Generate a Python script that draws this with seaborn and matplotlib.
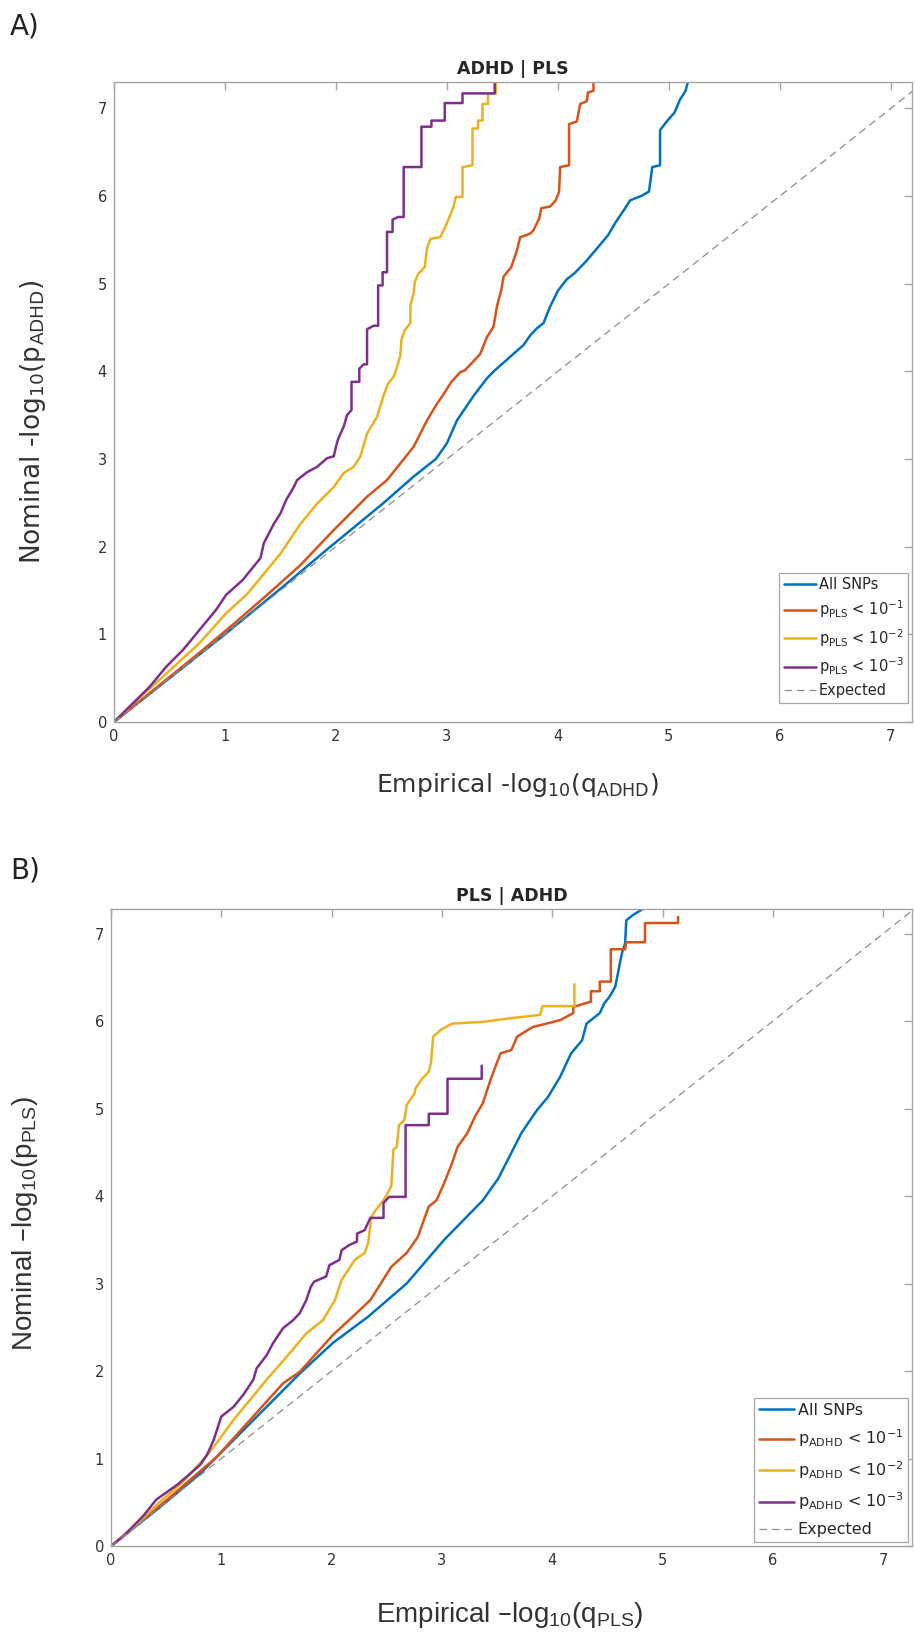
import numpy as np
import pandas as pd
import matplotlib
matplotlib.use("Agg")
import matplotlib.pyplot as plt
import seaborn as sns

# ---- Panel A: ADHD | PLS ----
a_all_x = [0, 0.50, 1.00, 1.50, 1.95, 2.20, 2.43, 2.70, 2.90, 3.00, 3.09, 3.24, 3.36, 3.43, 3.52, 3.60, 3.69, 3.75, 3.81, 3.87,
           3.93, 4.00, 4.08, 4.15, 4.25, 4.35, 4.45, 4.52, 4.60, 4.65, 4.75, 4.82, 4.85, 4.92, 4.92, 4.98, 5.05, 5.10, 5.15, 5.17]
a_all_y = [0, 0.50, 1.00, 1.52, 2.00, 2.26, 2.50, 2.80, 3.00, 3.18, 3.44, 3.72, 3.92, 4.01, 4.11, 4.20, 4.30, 4.41, 4.49, 4.55,
           4.74, 4.92, 5.05, 5.12, 5.25, 5.40, 5.55, 5.70, 5.85, 5.95, 6.00, 6.05, 6.33, 6.35, 6.75, 6.85, 6.95, 7.10, 7.20, 7.30]

a_p1_x = [0, 0.77, 1.07, 1.38, 1.68, 1.98, 2.13, 2.28, 2.46, 2.58, 2.70, 2.82, 2.91, 2.97, 3.04, 3.12, 3.16, 3.25, 3.30, 3.36,
          3.42, 3.45, 3.49, 3.51, 3.58, 3.63, 3.66, 3.75, 3.78, 3.83, 3.85, 3.93, 3.98, 4.01, 4.02, 4.10, 4.10, 4.17, 4.20, 4.26,
          4.27, 4.32, 4.32]
a_p1_y = [0, 0.79, 1.11, 1.45, 1.79, 2.19, 2.38, 2.57, 2.76, 2.95, 3.14, 3.44, 3.63, 3.74, 3.88, 3.99, 4.01, 4.13, 4.20, 4.39,
          4.51, 4.74, 4.93, 5.08, 5.19, 5.38, 5.53, 5.57, 5.61, 5.74, 5.86, 5.88, 5.95, 6.05, 6.33, 6.35, 6.82, 6.85, 7.05, 7.08,
          7.18, 7.20, 7.30]

a_p2_x = [0, 0.17, 0.47, 0.77, 1.01, 1.20, 1.35, 1.50, 1.68, 1.83, 1.98, 2.07, 2.16, 2.22, 2.28, 2.37, 2.43, 2.47, 2.52, 2.55,
          2.58, 2.59, 2.62, 2.67, 2.67, 2.70, 2.71, 2.74, 2.80, 2.82, 2.85, 2.94, 2.97, 3.01, 3.06, 3.08, 3.14, 3.14, 3.23, 3.23,
          3.28, 3.28, 3.32, 3.32, 3.37, 3.37, 3.44, 3.44]
a_p2_y = [0, 0.21, 0.55, 0.90, 1.24, 1.46, 1.69, 1.92, 2.26, 2.49, 2.68, 2.84, 2.91, 3.03, 3.29, 3.48, 3.73, 3.86, 3.94, 4.05,
          4.18, 4.36, 4.47, 4.55, 4.75, 4.89, 5.02, 5.11, 5.19, 5.40, 5.51, 5.53, 5.61, 5.72, 5.88, 5.99, 5.99, 6.33, 6.35, 6.77,
          6.77, 6.86, 6.86, 7.05, 7.05, 7.17, 7.17, 7.30]

a_p3_x = [0, 0.32, 0.47, 0.62, 0.77, 0.92, 1.01, 1.16, 1.23, 1.32, 1.35, 1.44, 1.50, 1.55, 1.62, 1.65, 1.74, 1.83, 1.92, 1.98,
          2.00, 2.02, 2.07, 2.10, 2.14, 2.14, 2.21, 2.21, 2.25, 2.28, 2.28, 2.34, 2.38, 2.38, 2.42, 2.42, 2.46, 2.46, 2.51, 2.51,
          2.56, 2.61, 2.61, 2.77, 2.77, 2.86, 2.86, 2.98, 2.98, 3.14, 3.14, 3.43, 3.43]
a_p3_y = [0, 0.40, 0.63, 0.82, 1.05, 1.28, 1.45, 1.62, 1.73, 1.87, 2.04, 2.26, 2.38, 2.53, 2.68, 2.76, 2.85, 2.91, 3.01, 3.03,
          3.14, 3.23, 3.37, 3.50, 3.56, 3.88, 3.88, 4.03, 4.08, 4.08, 4.48, 4.52, 4.52, 4.98, 4.98, 5.13, 5.13, 5.59, 5.59, 5.73,
          5.76, 5.76, 6.33, 6.33, 6.79, 6.79, 6.86, 6.86, 7.06, 7.06, 7.17, 7.17, 7.30]

# ---- Panel B: PLS | ADHD ----
b_all_x = [0, 0.45, 0.81, 1.11, 1.41, 1.71, 2.01, 2.33, 2.68, 3.02, 3.37, 3.51, 3.72, 3.86, 3.96, 4.07, 4.17, 4.27, 4.31, 4.43,
           4.47, 4.52, 4.57, 4.60, 4.63, 4.66, 4.67, 4.73, 4.82]
b_all_y = [0, 0.45, 0.83, 1.21, 1.59, 1.97, 2.32, 2.62, 3.00, 3.50, 3.95, 4.20, 4.72, 4.98, 5.13, 5.36, 5.63, 5.78, 5.97, 6.09,
           6.20, 6.28, 6.39, 6.58, 6.77, 6.89, 7.15, 7.21, 7.28]

b_p1_x = [0, 0.50, 0.96, 1.26, 1.56, 1.71, 2.01, 2.19, 2.35, 2.54, 2.68, 2.78, 2.88, 2.95, 3.02, 3.09, 3.14, 3.23, 3.30, 3.37,
          3.44, 3.53, 3.63, 3.68, 3.82, 4.07, 4.19, 4.19, 4.29, 4.35, 4.35, 4.43, 4.43, 4.53, 4.53, 4.66, 4.67, 4.84, 4.84, 5.14,
          5.14]
b_p1_y = [0, 0.52, 1.02, 1.44, 1.86, 1.99, 2.41, 2.62, 2.81, 3.19, 3.35, 3.53, 3.88, 3.95, 4.15, 4.37, 4.56, 4.72, 4.91, 5.06,
          5.33, 5.63, 5.67, 5.82, 5.93, 6.01, 6.09, 6.16, 6.20, 6.22, 6.34, 6.34, 6.45, 6.45, 6.82, 6.82, 6.90, 6.90, 7.12, 7.12,
          7.19]

b_p2_x = [0, 0.20, 0.44, 0.65, 0.81, 0.93, 1.11, 1.26, 1.41, 1.59, 1.77, 1.92, 2.03, 2.09, 2.21, 2.30, 2.33, 2.36, 2.40, 2.47,
          2.54, 2.56, 2.59, 2.61, 2.66, 2.68, 2.75, 2.76, 2.82, 2.88, 2.90, 2.92, 2.99, 3.09, 3.37, 3.61, 3.89, 3.91, 4.20, 4.20]
b_p2_y = [0, 0.21, 0.50, 0.73, 0.95, 1.13, 1.44, 1.67, 1.90, 2.16, 2.43, 2.58, 2.81, 3.04, 3.27, 3.35, 3.46, 3.76, 3.84, 3.95,
          4.11, 4.53, 4.56, 4.81, 4.87, 5.04, 5.17, 5.23, 5.34, 5.42, 5.52, 5.82, 5.90, 5.97, 5.99, 6.03, 6.07, 6.17, 6.17, 6.42]

b_p3_x = [0, 0.11, 0.29, 0.41, 0.60, 0.72, 0.81, 0.87, 0.93, 1.00, 1.11, 1.20, 1.29, 1.32, 1.41, 1.47, 1.56, 1.65, 1.71, 1.77,
          1.81, 1.84, 1.95, 1.98, 2.07, 2.09, 2.16, 2.23, 2.23, 2.30, 2.35, 2.47, 2.47, 2.52, 2.67, 2.67, 2.88, 2.88, 3.05, 3.05,
          3.36, 3.36]
b_p3_y = [0, 0.11, 0.34, 0.53, 0.70, 0.83, 0.93, 1.04, 1.21, 1.48, 1.59, 1.73, 1.90, 2.03, 2.18, 2.32, 2.49, 2.58, 2.66, 2.81,
          2.96, 3.02, 3.08, 3.21, 3.27, 3.38, 3.44, 3.48, 3.57, 3.61, 3.75, 3.75, 3.92, 3.99, 3.99, 4.81, 4.81, 4.94, 4.94, 5.34,
          5.34, 5.49]

labels_a = ["All SNPs",
            r"p$_{\mathregular{PLS}}$ < 10$^{\mathregular{-1}}$",
            r"p$_{\mathregular{PLS}}$ < 10$^{\mathregular{-2}}$",
            r"p$_{\mathregular{PLS}}$ < 10$^{\mathregular{-3}}$"]
labels_b = ["All SNPs",
            r"p$_{\mathregular{ADHD}}$ < 10$^{\mathregular{-1}}$",
            r"p$_{\mathregular{ADHD}}$ < 10$^{\mathregular{-2}}$",
            r"p$_{\mathregular{ADHD}}$ < 10$^{\mathregular{-3}}$"]
ticks = [0, 1, 2, 3, 4, 5, 6, 7]

cores = ["#0072BD", "#D95319", "#EDB120", "#7E2F8E"]
cinza = "#a6a6a6"

sns.set_style("white")
plt.rcParams["font.family"] = ["DejaVu Sans"]


def monta_df(curvas, labels):
    partes = []
    for (xs, ys), lab in zip(curvas, labels):
        partes.append(pd.DataFrame({"x": xs, "y": ys, "serie": lab}))
    return pd.concat(partes, ignore_index=True)


def painel_qq(ax, df, labels, xmax, ymax, titulo, leg_size, leg_y, leg_sp):
    sns.lineplot(data=df, x="x", y="y", hue="serie", hue_order=labels, palette=cores,
                 sort=False, estimator=None, lw=1.8, ax=ax)
    diag = pd.DataFrame({"x": [0, 8], "y": [0, 8]})
    sns.lineplot(data=diag, x="x", y="y", color="#8c8c8c", lw=0.9, ls=(0, (6, 4)),
                 label="Expected", ax=ax)
    ax.set_xlim(0, xmax)
    ax.set_ylim(0, ymax)
    ax.set_xticks(ticks)
    ax.set_yticks(ticks)
    for s in ax.spines.values():
        s.set_visible(True)
        s.set_color(cinza)
        s.set_linewidth(1.0)
    ax.tick_params(direction="in", top=True, right=True, length=6, width=1,
                   color=cinza, labelcolor="#333333", labelsize=10.5, pad=5)
    ax.set_title(titulo, fontsize=12.5, fontweight="bold", pad=6)
    leg = ax.legend(loc="lower right", bbox_to_anchor=(0.995, leg_y), fontsize=leg_size,
                    frameon=True, fancybox=False, framealpha=1, edgecolor=cinza,
                    handlelength=2.2, handletextpad=0.2, borderpad=0.3, labelspacing=leg_sp,
                    borderaxespad=0)
    leg.get_frame().set_linewidth(0.9)


fig = plt.figure(figsize=(9.15, 16.35), dpi=100)
ax_a = fig.add_axes([114 / 915, 1 - 722 / 1635, 798 / 915, 640 / 1635])
ax_b = fig.add_axes([111 / 915, 1 - 1546 / 1635, 801 / 915, 637 / 1635])

df_a = monta_df([(a_all_x, a_all_y), (a_p1_x, a_p1_y), (a_p2_x, a_p2_y), (a_p3_x, a_p3_y)], labels_a)
df_b = monta_df([(b_all_x, b_all_y), (b_p1_x, b_p1_y), (b_p2_x, b_p2_y), (b_p3_x, b_p3_y)], labels_b)

painel_qq(ax_a, df_a, labels_a, 7.19, 7.3, "ADHD | PLS", 10.5, 0.030, 0.45)
painel_qq(ax_b, df_b, labels_b, 7.26, 7.28, "PLS | ADHD", 11.5, 0.006, 0.62)

ax_a.set_xlabel(r"Empirical -log$_{\mathregular{10}}$(q$_{\mathregular{ADHD}}$)", fontsize=18,
                color="#333333", va="center")
ax_a.xaxis.set_label_coords(0.506, -0.098)
ax_a.set_ylabel(r"Nominal -log$_{\mathregular{10}}$(p$_{\mathregular{ADHD}}$)", fontsize=19,
                color="#333333", va="center")
ax_a.yaxis.set_label_coords(-0.1015, 0.469)

ax_b.set_xlabel(r"Empirical –log$_{\mathregular{10}}$(q$_{\mathregular{PLS}}$)", fontsize=20,
                color="#333333", va="center", family=["Liberation Sans", "DejaVu Sans"])
ax_b.xaxis.set_label_coords(0.498, -0.108)
ax_b.set_ylabel(r"Nominal –log$_{\mathregular{10}}$(p$_{\mathregular{PLS}}$)", fontsize=20,
                color="#333333", va="center", family=["Liberation Sans", "DejaVu Sans"])
ax_b.yaxis.set_label_coords(-0.107, 0.507)

fig.text(10 / 915, 1 - 26 / 1635, "A)", fontsize=20, va="center", ha="left", color="#222222")
fig.text(10 / 915, 1 - 870 / 1635, "B)", fontsize=20, va="center", ha="left", color="#222222")

fig.savefig("out.png", dpi=100)
